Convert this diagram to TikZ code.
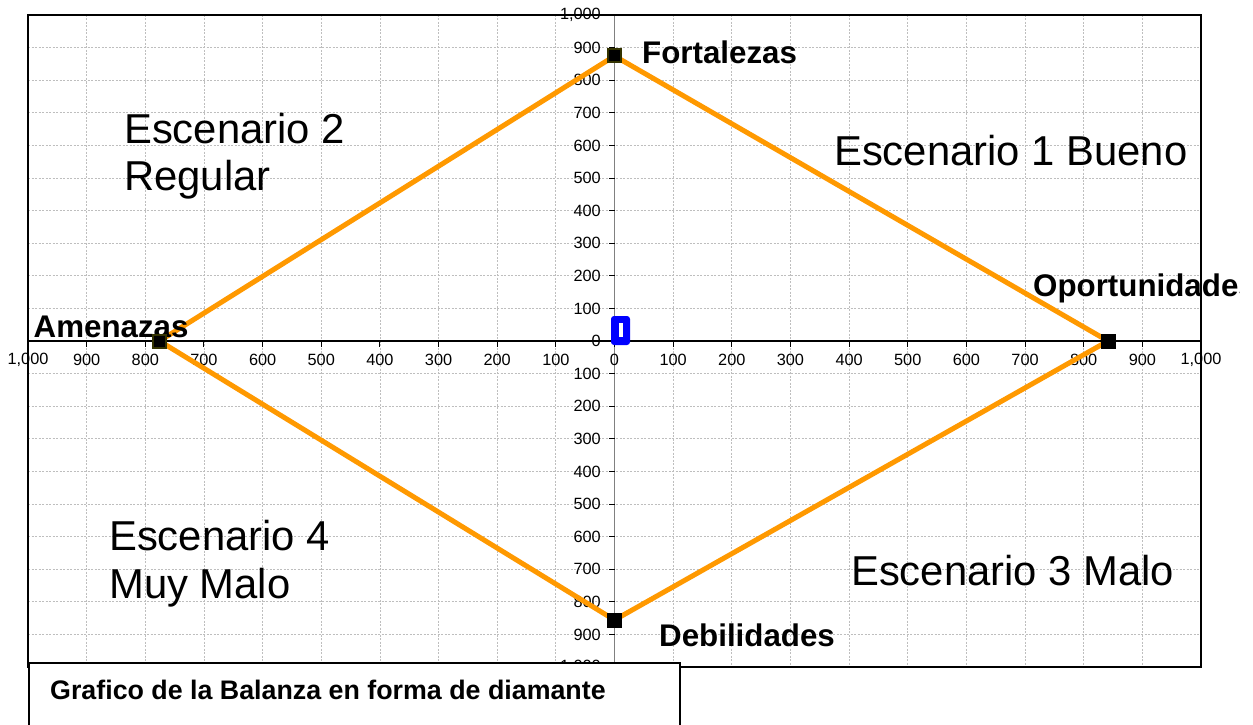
\documentclass[tikz,border=0pt]{standalone}
\usepackage{fontspec}
\setmainfont{Liberation Sans}
\definecolor{orangeline}{RGB}{255,153,0}
\definecolor{markeredge}{RGB}{51,51,0}
\definecolor{gridgray}{RGB}{190,190,190}
\definecolor{axisgray}{RGB}{128,128,128}
\definecolor{markerblue}{RGB}{0,0,255}
\begin{document}
\begin{tikzpicture}[x=1pt,y=-1pt,
  gridline/.style={gridgray, line width=0.8pt, dash pattern=on 2pt off 1.5pt},
  ticklabel/.style={font=\fontsize{16.3}{19}\selectfont, inner sep=0pt},
  bigtext/.style={font=\fontsize{41.8}{47}\selectfont, inner sep=0pt, anchor=base west},
  boldlabel/.style={font=\fontsize{31.3}{36}\selectfont\bfseries, inner sep=0pt, anchor=base west},
  captiontext/.style={font=\fontsize{26.8}{32}\selectfont\bfseries, inner sep=0pt, anchor=base west},
  datapt/.style={rectangle, fill=black, minimum size=15pt, inner sep=0pt},
  datapte/.style={datapt, draw=markeredge, line width=2pt, minimum size=13pt},
  serie/.style={orangeline, line width=5pt, line join=round, line cap=round},
  frame/.style={black, line width=2.2pt}
]
\useasboundingbox (0,0) rectangle (1253,725);
\fill[white] (0,0) rectangle (1253,725);
% grid
\foreach \i in {-9,...,9}{
  \draw[gridline] ({614.5+58.65*\i},15) -- ({614.5+58.65*\i},667);
  \draw[gridline] (28,{341+32.6*\i}) -- (1201,{341+32.6*\i});
}
% axes
\draw[axisgray, line width=1.5pt] (614.5,15) -- (614.5,667);
\draw[black, line width=1.5pt] (28,341) -- (1201,341);
% ticks
\foreach \i in {-10,...,10}{
  \draw[black, line width=1pt] ({614.5+58.65*\i},341) -- ({614.5+58.65*\i},346.5);
  \draw[black, line width=1pt] (609,{341+32.6*\i}) -- (614.5,{341+32.6*\i});
}
% tick labels
\node[ticklabel] (x0) at (614.5,359.5) {0};
\node[ticklabel, anchor=east] (y0) at (601,341) {0};
\foreach \i/\t in {1/100,2/200,3/300,4/400,5/500,6/600,7/700,8/800,9/900,10/{1,000}}{
  \node[ticklabel] (xr\i) at ({614.5+58.65*\i},359.5) {\t};
  \node[ticklabel] (xl\i) at ({614.5-58.65*\i},359.5) {\t};
  \node[ticklabel, anchor=east] (yu\i) at (601,{341-32.6*\i}) {\t};
  \node[ticklabel, anchor=east] (yd\i) at (601,{341+32.6*\i}) {\t};
}
% frame
\draw[frame] (28,15) rectangle (1201,667);
% data series
\coordinate (pF) at (614.5,56);
\coordinate (pO) at (1108,341);
\coordinate (pD) at (614.5,620);
\coordinate (pA) at (159.5,341);
\draw[serie] (pF) -- (pO) -- (pD) -- (pA) -- cycle;
% labels
\node[boldlabel] (lF) at (642,63.3) {Fortalezas};
\begin{scope}
  \clip (0,0) rectangle (1239,725);
  \node[boldlabel] (lO) at (1033,296) {Oportunidades};
\end{scope}
\node[boldlabel] (lA) at (33.5,337.3) {Amenazas};
\node[boldlabel] (lD) at (659,646.7) {Debilidades};
% markers
\node[datapte] (F) at (pF) {};
\node[datapt] (O) at (pO) {};
\node[datapt] (D) at (pD) {};
\node[datapte] (A) at (pA) {};
% blue marker at origin
\fill[markerblue, rounded corners=3pt] (611,316) rectangle (630,345);
\fill[white] (618.5,323.3) rectangle (622.5,337.3);
% scenario texts
\node[bigtext] (e2a) at (124,143.3) {Escenario 2};
\node[bigtext] (e2b) at (124,190.7) {Regular};
\node[bigtext] (e1) at (834,165) {Escenario 1 Bueno};
\node[bigtext] (e4a) at (109,550.7) {Escenario 4};
\node[bigtext] (e4b) at (109,598.3) {Muy Malo};
\node[bigtext] (e3) at (851,585) {Escenario 3 Malo};
% caption box
\draw[fill=white, line width=2.2pt] (29,663) rectangle (680,728);
\node[captiontext] (cap) at (50,699.3) {Grafico de la Balanza en forma de diamante};
\end{tikzpicture}
\end{document}
